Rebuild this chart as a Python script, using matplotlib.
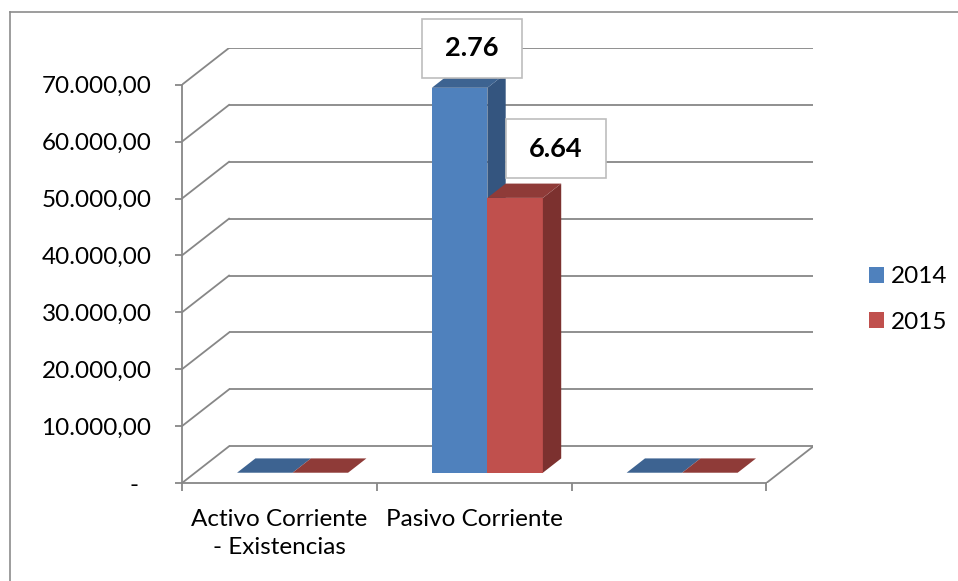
import matplotlib.pyplot as plt
from matplotlib.patches import Polygon, Rectangle, Patch
from matplotlib.lines import Line2D

plt.rcParams['font.family'] = ['Lato', 'DejaVu Sans']

categories = ['Activo Corriente\n- Existencias', 'Pasivo Corriente', '']
years = ['2014', '2015']
vals_2014 = [0, 67650, 0]
vals_2015 = [0, 48300, 0]
ratio_labels = ['2.76', '6.64']
yticks = [0, 10000, 20000, 30000, 40000, 50000, 60000, 70000]
ytick_labels = ['-  ', '10.000,00', '20.000,00', '30.000,00', '40.000,00',
                '50.000,00', '60.000,00', '70.000,00']

# colours: front, side, top
faces = {
    '2014': ('#4F81BD', '#34557F', '#3D6391'),
    '2015': ('#C0504D', '#7C312F', '#8F3B38'),
}
grid_c = '#878787'

# oblique depth of the plot box, in data units
DX, DY = 0.2414, 6450
front_frac, depth_frac = 0.28, 0.39
bar_w = 0.285

fig = plt.figure(figsize=(9.58, 5.81), dpi=100)
ax = fig.add_axes([182 / 958, 98 / 581, 631.4 / 958, 435 / 581])
ax.set_xlim(0, 3 + DX)
ax.set_ylim(0, 70000 + DY)

# outer chart frame
fig.add_artist(Line2D([10 / 958, 1], [1 - 12 / 581] * 2, color='#8C8C8C', lw=1.2,
                      transform=fig.transFigure))
fig.add_artist(Line2D([10 / 958] * 2, [0, 1 - 12 / 581], color='#8C8C8C', lw=1.2,
                      transform=fig.transFigure))

# back wall gridlines + side wall diagonals
for v in yticks:
    ax.plot([DX, 3 + DX], [v + DY, v + DY], color=grid_c, lw=1.3, zorder=1,
            solid_capstyle='butt')
    ax.plot([0, DX], [v, v + DY], color=grid_c, lw=1.3, zorder=1)
# floor right edge
ax.plot([3, 3 + DX], [0, DY], color=grid_c, lw=1.3, zorder=1)

# axes styling
for s in ['top', 'right']:
    ax.spines[s].set_visible(False)
ax.spines['left'].set_bounds(0, 70000)
ax.spines['bottom'].set_bounds(0, 3)
for s in ['left', 'bottom']:
    ax.spines[s].set_color(grid_c)
    ax.spines[s].set_linewidth(1.3)
ax.set_yticks(yticks)
ax.set_yticklabels(ytick_labels)
ax.tick_params(axis='y', length=5, width=1.3, color=grid_c, pad=17, labelsize=17.5)
ax.set_xticks([0, 1, 2, 3])
ax.set_xticklabels([])
ax.set_xticks([0.5, 1.5, 2.5], minor=True)
ax.set_xticklabels(categories, minor=True, fontsize=17.5)
for lab in ax.get_xticklabels(minor=True):
    lab.set_linespacing(1.4)
ax.tick_params(axis='x', which='major', length=6, width=1.3, color=grid_c)
ax.tick_params(axis='x', which='minor', length=0, pad=19)
ax.patch.set_visible(False)


def bar3d(x0, v, cols, z):
    y0 = DY * front_frac
    ddx, ddy = DX * depth_frac, DY * depth_frac
    front, side, top = cols
    if v > 0:
        ax.add_patch(Rectangle((x0, y0), bar_w, v, facecolor=front, edgecolor='none', zorder=z))
        ax.add_patch(Polygon([(x0 + bar_w, y0), (x0 + bar_w + ddx, y0 + ddy),
                              (x0 + bar_w + ddx, y0 + ddy + v), (x0 + bar_w, y0 + v)],
                             facecolor=side, edgecolor='none', zorder=z))
    ax.add_patch(Polygon([(x0, y0 + v), (x0 + bar_w, y0 + v),
                          (x0 + bar_w + ddx, y0 + v + ddy), (x0 + ddx, y0 + v + ddy)],
                         facecolor=top, edgecolor='none', zorder=z))


for i in range(len(categories)):
    start = i + 0.5 + DX * front_frac - bar_w
    bar3d(start, vals_2014[i], faces['2014'], 3)
    bar3d(start + bar_w, vals_2015[i], faces['2015'], 4)

# ratio boxes above the Pasivo Corriente bars
box_w, box_h = 0.514, 10380
label_pos = [(1.490, 76430), (1.919, 58750)]
for (cx, cy), txt in zip(label_pos, ratio_labels):
    ax.add_patch(Rectangle((cx - box_w / 2, cy - box_h / 2), box_w, box_h,
                           facecolor='white', edgecolor='#BDBDBD', lw=1.2,
                           zorder=6, clip_on=False))
    ax.text(cx, cy, txt, ha='center', va='center', fontsize=19.5, fontweight='bold',
            zorder=7, clip_on=False)

handles = [Patch(facecolor=faces[y][0], edgecolor='none') for y in years]
fig.legend(handles, years, loc='center left', bbox_to_anchor=(869 / 958, 1 - 299.5 / 581),
           frameon=False, fontsize=17.5, handlelength=0.62, handleheight=0.62,
           handletextpad=0.3, labelspacing=1.0, borderpad=0, borderaxespad=0)

fig.savefig('out.png', dpi=100)
